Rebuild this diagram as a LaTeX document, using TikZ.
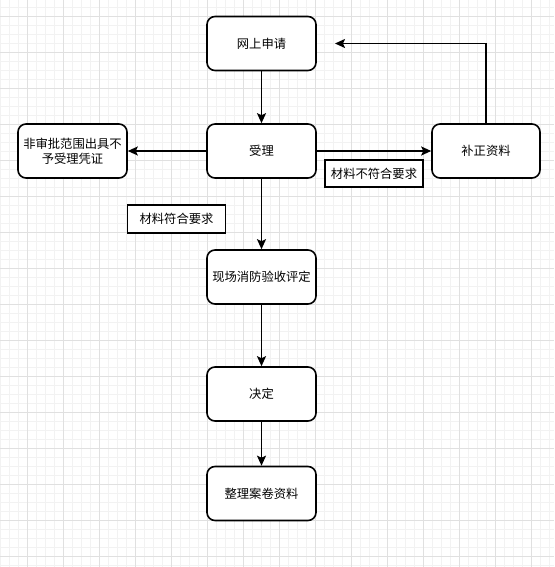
\documentclass[tikz,border=0pt]{standalone}
\usepackage{fontspec}
\setmainfont{Noto Sans CJK SC}
\usetikzlibrary{arrows.meta}
\definecolor{gminor}{HTML}{F2F2F2}
\definecolor{gmajor}{HTML}{E0E0E0}
\tikzset{
  box/.style={draw=black, line width=1.6pt, rounded corners=8pt, fill=white,
    minimum width=109pt, minimum height=54pt, align=center, inner sep=2pt,
    font=\fontsize{12.3}{15}\selectfont},
  lbl/.style={draw=black, line width=1.6pt, fill=white, minimum width=98pt,
    minimum height=27pt, inner sep=1pt, font=\fontsize{12.3}{15}\selectfont},
  arr/.style={line width=1.6pt, -{Stealth[length=10pt,width=9pt,inset=2pt]}},
}
\begin{document}
\begin{tikzpicture}[x=1pt,y=-1pt]
\useasboundingbox (0,0) rectangle (554,567);
\fill[white] (0,0) rectangle (554,567);
% grid
\foreach \i in {0,...,61} {\draw[gminor, line width=0.6pt] (\i*9,0) -- (\i*9,567);}
\foreach \j in {0,...,63} {\draw[gminor, line width=0.6pt] (0,7+\j*9) -- (554,7+\j*9);}
\foreach \i in {0,...,15} {\draw[gmajor, line width=0.8pt] (27+\i*36,0) -- (27+\i*36,567);}
\foreach \j in {0,...,15} {\draw[gmajor, line width=0.8pt] (0,16+\j*36) -- (554,16+\j*36);}
% nodes
\node[box] (n1) at (261.5,43.5) {网上申请};
\node[box] (n2) at (261.5,151) {受理};
\node[box] (n3) at (72.5,151) {非审批范围出具不\\予受理凭证};
\node[box, minimum width=108pt] (n4) at (486,151) {补正资料};
\node[box] (n5) at (261.5,277) {现场消防验收评定};
\node[box] (n6) at (261.5,394) {决定};
\node[box] (n7) at (261.5,493.5) {整理案卷资料};
\coordinate (c1) at (335,43.5);
% connectors
\draw[arr] (n1) -- (n2);
\draw[arr] (n2) -- (n3);
\draw[arr] (n2) -- (n4);
\draw[arr] (n4.north) |- (c1);
\draw[arr] (n2) -- (n5);
\draw[arr] (n5) -- (n6);
\draw[arr] (n6) -- (n7);
% labels
\node[lbl] (l1) at (374,173.5) {材料不符合要求};
\node[lbl, minimum height=28pt] (l2) at (176.5,219) {材料符合要求};
\end{tikzpicture}
\end{document}
